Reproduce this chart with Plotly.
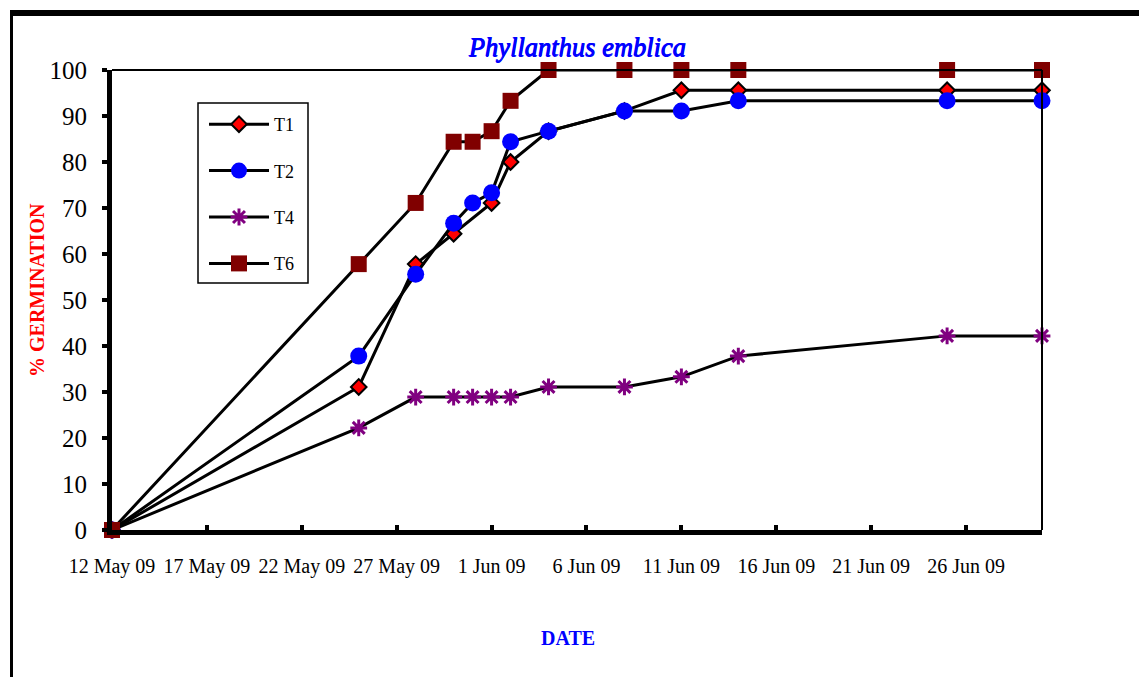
import plotly.graph_objects as go

# Germination observations (percent) for Phyllanthus emblica
dates = ["2009-05-12", "2009-05-25", "2009-05-28", "2009-05-30", "2009-05-31",
         "2009-06-01", "2009-06-02", "2009-06-04", "2009-06-08", "2009-06-11",
         "2009-06-14", "2009-06-25", "2009-06-30"]
t1 = [0, 31.1, 57.8, 64.4, None, 71.1, 80.0, 86.7, 91.1, 95.6, 95.6, 95.6, 95.6]
t2 = [0, 37.8, 55.6, 66.7, 71.1, 73.3, 84.4, 86.7, 91.1, 91.1, 93.3, 93.3, 93.3]
t4 = [0, 22.2, 28.9, 28.9, 28.9, 28.9, 28.9, 31.1, 31.1, 33.3, 37.8, 42.2, 42.2]
t6 = [0, 57.8, 71.1, 84.4, 84.4, 86.7, 93.3, 100, 100, 100, 100, 100, 100]

W, H = 1139, 677
ML, MR, MT, MB = 112, 97, 70, 147
PW, PH = W - ML - MR, H - MT - MB
SERIF = "Liberation Serif"


def px_x(p):
    return (p - ML) / PW


def px_y(p):
    return (H - MB - p) / PH


fig = go.Figure()

series = [
    ("T1", t1, dict(symbol="diamond", size=12, color="#FF0000",
                    line=dict(color="black", width=2))),
    ("T2", t2, dict(symbol="circle", size=17, color="#0000FF",
                    line=dict(width=0))),
    ("T4", t4, dict(symbol="asterisk-open", size=14, color="#800080",
                    line=dict(color="#800080", width=3))),
    ("T6", t6, dict(symbol="square", size=16, color="#800000",
                    line=dict(width=0))),
]
for name, vals, marker in series:
    fig.add_trace(go.Scatter(
        x=dates, y=vals, name=name, mode="lines+markers",
        connectgaps=True, legendgroup=name, cliponaxis=False,
        line=dict(color="black", width=3), marker=marker,
    ))

fig.update_layout(
    width=W, height=H,
    margin=dict(l=ML, r=MR, t=MT, b=MB),
    paper_bgcolor="white", plot_bgcolor="white",
    font=dict(family=SERIF, color="black"),
    # italic serif, thickened with a tight same-colour shadow
    title=dict(text="<i>Phyllanthus emblica</i>", x=px_x(577), xref="paper",
               xanchor="center", y=1 - 47 / H, yanchor="middle",
               font=dict(family=SERIF, size=26.5, color="#0000FF",
                         shadow="0.9px 0 0 #0000FF, 0.5px 0.3px 0 #0000FF")),
    legend=dict(x=px_x(204), y=px_y(106), xanchor="left", yanchor="top",
                bgcolor="rgba(0,0,0,0)", borderwidth=0,
                font=dict(family=SERIF, size=18, color="black"),
                itemwidth=60, tracegroupgap=20, traceorder="grouped"),
    showlegend=True,
)

fig.update_xaxes(
    type="date", range=["2009-05-12", "2009-06-30"],
    tick0="2009-05-12", dtick=5 * 86400000, tickformat="%-d %b %y",
    showgrid=False, zeroline=False,
    showline=True, linecolor="black", linewidth=5,
    ticks="inside", ticklen=5, tickwidth=4, tickcolor="black",
    tickfont=dict(family=SERIF, size=20, color="black"),
    ticklabelstandoff=14,
)
fig.update_yaxes(
    range=[0, 100], dtick=10,
    showgrid=False, zeroline=False,
    showline=True, linecolor="black", linewidth=5,
    ticks="outside", ticklen=5, tickwidth=4, tickcolor="black",
    tickfont=dict(family=SERIF, size=25, color="black"),
    ticklabelstandoff=10,
)

# legend frame
fig.add_shape(type="rect", xref="paper", yref="paper", layer="above",
              x0=px_x(198), x1=px_x(308), y0=px_y(103), y1=px_y(283),
              fillcolor="white", line=dict(color="black", width=1.5))
# thin top and right borders of the plotting area
fig.add_shape(type="line", xref="paper", yref="paper", x0=0, x1=1, y0=1, y1=1,
              line=dict(color="black", width=2))
fig.add_shape(type="line", xref="paper", yref="paper", x0=1, x1=1, y0=0, y1=1,
              line=dict(color="black", width=2))
# outer chart frame (top and left edges)
fig.add_shape(type="line", xref="paper", yref="paper",
              x0=px_x(11), x1=px_x(W + 5), y0=px_y(13), y1=px_y(13),
              line=dict(color="black", width=6))
fig.add_shape(type="line", xref="paper", yref="paper",
              x0=px_x(11.5), x1=px_x(11.5), y0=px_y(10), y1=px_y(H + 5),
              line=dict(color="black", width=3))

# axis titles
fig.add_annotation(text="<b>DATE</b>", xref="paper", yref="paper",
                   x=px_x(568), y=px_y(638), showarrow=False,
                   xanchor="center", yanchor="middle",
                   font=dict(family=SERIF, size=20, color="#0000FF"))
fig.add_annotation(text="<b>% GERMINATION</b>", xref="paper", yref="paper",
                   x=px_x(37), y=px_y(290), showarrow=False, textangle=-90,
                   xanchor="center", yanchor="middle",
                   font=dict(family=SERIF, size=20, color="#FF0000"))

fig.write_html("out.html")
